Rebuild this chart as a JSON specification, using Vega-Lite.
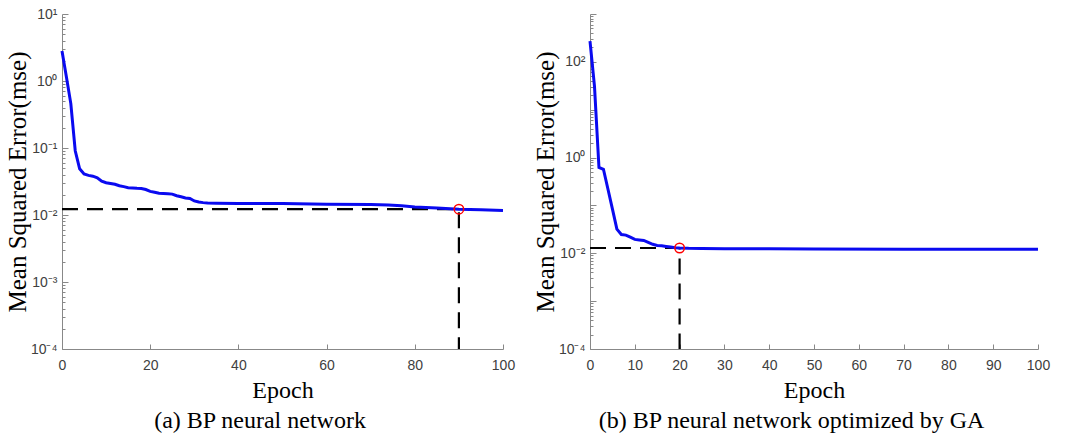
{
  "$schema": "https://vega.github.io/schema/vega-lite/v6.json",
  "padding": {"left": 5, "top": 7, "right": 4, "bottom": 0},
  "spacing": 18,
  "config": {
    "view": {"stroke": null},
    "axis": {
      "grid": false,
      "domainColor": "#888888",
      "domainWidth": 1,
      "tickColor": "#888888",
      "labelColor": "#404040",
      "labelFont": "Liberation Sans",
      "labelFontSize": 14,
      "titleFont": "Liberation Serif",
      "titleFontWeight": "normal",
      "titleColor": "#000000"
    },
    "title": {"font": "Liberation Serif", "fontSize": 24, "fontWeight": "normal", "color": "#000000"}
  },
  "datasets": {
    "bp": [
      {"epoch": 0, "mse": 2.8}, {"epoch": 1, "mse": 1.15}, {"epoch": 2, "mse": 0.46}, {"epoch": 3, "mse": 0.091},
      {"epoch": 4, "mse": 0.049}, {"epoch": 5, "mse": 0.041}, {"epoch": 6, "mse": 0.039}, {"epoch": 7, "mse": 0.038},
      {"epoch": 8, "mse": 0.036}, {"epoch": 9, "mse": 0.032}, {"epoch": 10, "mse": 0.0303}, {"epoch": 11, "mse": 0.0295},
      {"epoch": 12, "mse": 0.0288}, {"epoch": 13, "mse": 0.0273}, {"epoch": 14, "mse": 0.0265}, {"epoch": 15, "mse": 0.0256},
      {"epoch": 16, "mse": 0.0253}, {"epoch": 17, "mse": 0.025}, {"epoch": 18, "mse": 0.0249}, {"epoch": 19, "mse": 0.024},
      {"epoch": 20, "mse": 0.0225}, {"epoch": 21, "mse": 0.0218}, {"epoch": 22, "mse": 0.0211}, {"epoch": 23, "mse": 0.0209},
      {"epoch": 24, "mse": 0.0207}, {"epoch": 25, "mse": 0.0205}, {"epoch": 26, "mse": 0.0194}, {"epoch": 27, "mse": 0.0187},
      {"epoch": 28, "mse": 0.018}, {"epoch": 29, "mse": 0.0177}, {"epoch": 30, "mse": 0.0162}, {"epoch": 31, "mse": 0.0156},
      {"epoch": 32, "mse": 0.0153}, {"epoch": 33, "mse": 0.0151}, {"epoch": 35, "mse": 0.015}, {"epoch": 40, "mse": 0.0149},
      {"epoch": 50, "mse": 0.0148}, {"epoch": 60, "mse": 0.0145}, {"epoch": 70, "mse": 0.0143}, {"epoch": 74, "mse": 0.0141},
      {"epoch": 77, "mse": 0.0137}, {"epoch": 80, "mse": 0.0132}, {"epoch": 85, "mse": 0.0127}, {"epoch": 90, "mse": 0.0122},
      {"epoch": 95, "mse": 0.012}, {"epoch": 100, "mse": 0.0117}
    ],
    "bpGuide": [
      {"epoch": 0, "mse": 0.0122}, {"epoch": 90, "mse": 0.0122}, {"epoch": 90, "mse": 0.0001}
    ],
    "bpMark": [{"epoch": 90, "mse": 0.0122}],
    "ga": [
      {"epoch": 0, "mse": 272}, {"epoch": 1, "mse": 31}, {"epoch": 2, "mse": 0.62}, {"epoch": 3, "mse": 0.57},
      {"epoch": 4, "mse": 0.22}, {"epoch": 5, "mse": 0.085}, {"epoch": 6, "mse": 0.032}, {"epoch": 7, "mse": 0.0247},
      {"epoch": 8, "mse": 0.024}, {"epoch": 9, "mse": 0.0217}, {"epoch": 10, "mse": 0.0195}, {"epoch": 11, "mse": 0.019},
      {"epoch": 12, "mse": 0.0186}, {"epoch": 13, "mse": 0.0169}, {"epoch": 14, "mse": 0.0154}, {"epoch": 15, "mse": 0.0146},
      {"epoch": 16, "mse": 0.0143}, {"epoch": 17, "mse": 0.0139}, {"epoch": 18, "mse": 0.0135}, {"epoch": 19, "mse": 0.0131},
      {"epoch": 20, "mse": 0.0129}, {"epoch": 22, "mse": 0.0127}, {"epoch": 25, "mse": 0.0126}, {"epoch": 30, "mse": 0.0125},
      {"epoch": 40, "mse": 0.0124}, {"epoch": 50, "mse": 0.0123}, {"epoch": 70, "mse": 0.0122}, {"epoch": 100, "mse": 0.0121}
    ],
    "gaGuide": [
      {"epoch": 0, "mse": 0.0129}, {"epoch": 20, "mse": 0.0129}, {"epoch": 20, "mse": 0.0001}
    ],
    "gaMark": [{"epoch": 20, "mse": 0.0129}]
  },
  "hconcat": [
    {
      "width": 441,
      "height": 335,
      "title": {"text": "(a) BP neural network", "orient": "bottom", "anchor": "middle", "frame": "bounds", "offset": 7},
      "encoding": {
        "x": {"field": "epoch", "type": "quantitative", "scale": {"domain": [0, 100], "nice": false},
          "axis": {"title": "Epoch", "titleFontSize": 24, "titlePadding": 6, "values": [0, 20, 40, 60, 80, 100], "tickSize": -5, "labelPadding": 14, "labelFlush": false}},
        "y": {"field": "mse", "type": "quantitative", "scale": {"type": "log", "domain": [0.0001, 10], "nice": false},
          "axis": {"title": "Mean Squared Error(mse)", "titleFontSize": 25, "titlePadding": 0,
            "values": [0.0001,0.0002,0.0003,0.0004,0.0005,0.0006,0.0007,0.0008,0.0009,0.001,0.002,0.003,0.004,0.005,0.006,0.007,0.008,0.009,0.01,0.02,0.03,0.04,0.05,0.06,0.07,0.08,0.09,0.1,0.2,0.3,0.4,0.5,0.6,0.7,0.8,0.9,1,2,3,4,5,6,7,8,9,10],
            "tickSize": {"condition": {"test": "indexof([0.0001,0.001,0.01,0.1,1,10], datum.value) >= 0", "value": -6}, "value": -3},
            "labelPadding": 11,
            "labelFlush": false,
            "labelExpr": "datum.value==0.0001?'10⁻⁴':datum.value==0.001?'10⁻³':datum.value==0.01?'10⁻²':datum.value==0.1?'10⁻¹':datum.value==1?'10⁰':datum.value==10?'10¹':''"}}
      },
      "layer": [
        {"data": {"name": "bpGuide"}, "mark": {"type": "line", "color": "#000000", "strokeWidth": 2.2, "strokeDash": [16, 9]}},
        {"data": {"name": "bp"}, "mark": {"type": "line", "color": "#0a0af0", "strokeWidth": 3}},
        {"data": {"name": "bpMark"}, "mark": {"type": "point", "shape": "circle", "size": 90, "color": "#ff0000", "strokeWidth": 1.5, "filled": false, "opacity": 1}}
      ]
    },
    {
      "width": 448,
      "height": 335,
      "title": {"text": "(b) BP neural network optimized by GA", "orient": "bottom", "anchor": "middle", "frame": "bounds", "offset": 7},
      "encoding": {
        "x": {"field": "epoch", "type": "quantitative", "scale": {"domain": [0, 100], "nice": false},
          "axis": {"title": "Epoch", "titleFontSize": 24, "titlePadding": 6, "values": [0, 10, 20, 30, 40, 50, 60, 70, 80, 90, 100], "tickSize": -5, "labelPadding": 14, "labelFlush": false}},
        "y": {"field": "mse", "type": "quantitative", "scale": {"type": "log", "domain": [0.0001, 1000], "nice": false},
          "axis": {"title": "Mean Squared Error(mse)", "titleFontSize": 25, "titlePadding": 0,
            "values": [0.0001,0.0002,0.0003,0.0004,0.0005,0.0006,0.0007,0.0008,0.0009,0.001,0.002,0.003,0.004,0.005,0.006,0.007,0.008,0.009,0.01,0.02,0.03,0.04,0.05,0.06,0.07,0.08,0.09,0.1,0.2,0.3,0.4,0.5,0.6,0.7,0.8,0.9,1,2,3,4,5,6,7,8,9,10,20,30,40,50,60,70,80,90,100,200,300,400,500,600,700,800,900,1000],
            "tickSize": {"condition": {"test": "indexof([0.0001,0.001,0.01,0.1,1,10,100,1000], datum.value) >= 0", "value": -6}, "value": -3},
            "labelPadding": 11,
            "labelFlush": false,
            "labelExpr": "datum.value==0.0001?'10⁻⁴':datum.value==0.01?'10⁻²':datum.value==1?'10⁰':datum.value==100?'10²':''"}}
      },
      "layer": [
        {"data": {"name": "gaGuide"}, "mark": {"type": "line", "color": "#000000", "strokeWidth": 2.2, "strokeDash": [16, 9]}},
        {"data": {"name": "ga"}, "mark": {"type": "line", "color": "#0a0af0", "strokeWidth": 3}},
        {"data": {"name": "gaMark"}, "mark": {"type": "point", "shape": "circle", "size": 90, "color": "#ff0000", "strokeWidth": 1.5, "filled": false, "opacity": 1}}
      ]
    }
  ]
}
